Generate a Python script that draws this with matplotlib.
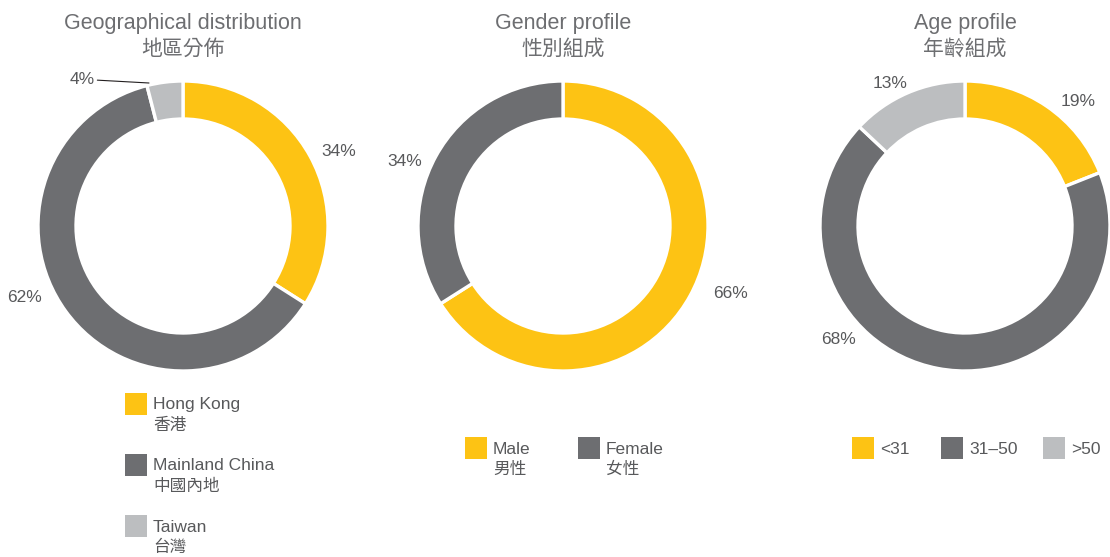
import matplotlib.pyplot as plt
from matplotlib.patches import Rectangle

plt.rcParams['font.family'] = ['Liberation Sans', 'Noto Sans CJK TC', 'DejaVu Sans']

YELLOW = '#FDC314'
DARK = '#6D6E71'
LIGHT = '#BCBEC0'
TITLE_COLOR = '#6D6E71'
TEXT_COLOR = '#58595B'

# data
geo_labels = ['Hong Kong', 'Mainland China', 'Taiwan']
geo_labels_zh = ['香港', '中國內地', '台灣']
geo_values = [34, 62, 4]

gender_labels = ['Male', 'Female']
gender_labels_zh = ['男性', '女性']
gender_values = [66, 34]

age_labels = ['<31', '31–50', '>50']
age_values = [19, 68, 13]

titles = [('Geographical distribution', '地區分佈'),
          ('Gender profile', '性別組成'),
          ('Age profile', '年齡組成')]

W, H = 1110, 557
fig = plt.figure(figsize=(W / 100, H / 100), dpi=100)
ax = fig.add_axes([0, 0, 1, 1])

R = 145
RING = 38
centers = [(183, H - 226), (563, H - 226), (965, H - 226)]
series = [
    (geo_values, [YELLOW, DARK, LIGHT]),
    (gender_values, [YELLOW, DARK]),
    (age_values, [YELLOW, DARK, LIGHT]),
]

label_texts = []
for (vals, cols), c in zip(series, centers):
    wedges, texts = ax.pie(vals, colors=cols, center=c, radius=R, startangle=90,
                           counterclock=False, labels=[f'{v}%' for v in vals],
                           labeldistance=1.18,
                           wedgeprops=dict(width=RING, edgecolor='white', linewidth=2.4),
                           textprops=dict(fontsize=12.5, color=TEXT_COLOR))
    for t in texts:
        t.set_ha('center')
    label_texts.append(texts)

ax.set_xlim(0, W)
ax.set_ylim(0, H)
ax.set_aspect('equal')
ax.axis('off')

# labels that sit apart from the wedge midpoint
label_texts[0][1].set_position((25, H - 297))
label_texts[0][2].set_visible(False)
ax.annotate(f'{geo_values[2]}%', xy=(149, H - 83), xytext=(82, H - 80),
            fontsize=12.5, color=TEXT_COLOR, ha='center', va='center',
            arrowprops=dict(arrowstyle='-', color='#231F20', lw=0.8,
                            shrinkA=0, shrinkB=0, relpos=(1, 0.5)))
label_texts[2][1].set_position((838, H - 340))
label_texts[0][0].set_position((339, H - 152))
label_texts[1][0].set_position((730, H - 293))
label_texts[1][1].set_position((405, H - 162))
label_texts[2][0].set_position((1078, H - 101))
label_texts[2][2].set_position((890, H - 83))

# titles
for (en, zh), c in zip(titles, centers):
    ax.text(c[0], H - 24, en, ha='center', va='center', fontsize=15.5, color=TITLE_COLOR)
    ax.text(c[0], H - 49, zh, ha='center', va='center', fontsize=15, color=TITLE_COLOR)


def legend_item(x, y, color, en, zh=None):
    ax.add_patch(Rectangle((x, H - y - 22), 22, 22, facecolor=color, edgecolor='none'))
    ax.text(x + 28, H - y - 12, en, ha='left', va='center', fontsize=12.5, color=TEXT_COLOR)
    if zh:
        ax.text(x + 28, H - y - 32, zh, ha='left', va='center', fontsize=12, color=TEXT_COLOR)


geo_cols = [YELLOW, DARK, LIGHT]
for i, (en, zh) in enumerate(zip(geo_labels, geo_labels_zh)):
    legend_item(125, 393 + i * 61, geo_cols[i], en, zh)

for i, (en, zh) in enumerate(zip(gender_labels, gender_labels_zh)):
    legend_item(465 + i * 113, 437, [YELLOW, DARK][i], en, zh)

for i, (en, x) in enumerate(zip(age_labels, [852, 941, 1043])):
    legend_item(x, 437, [YELLOW, DARK, LIGHT][i], en)

fig.savefig('out.png', dpi=100)
